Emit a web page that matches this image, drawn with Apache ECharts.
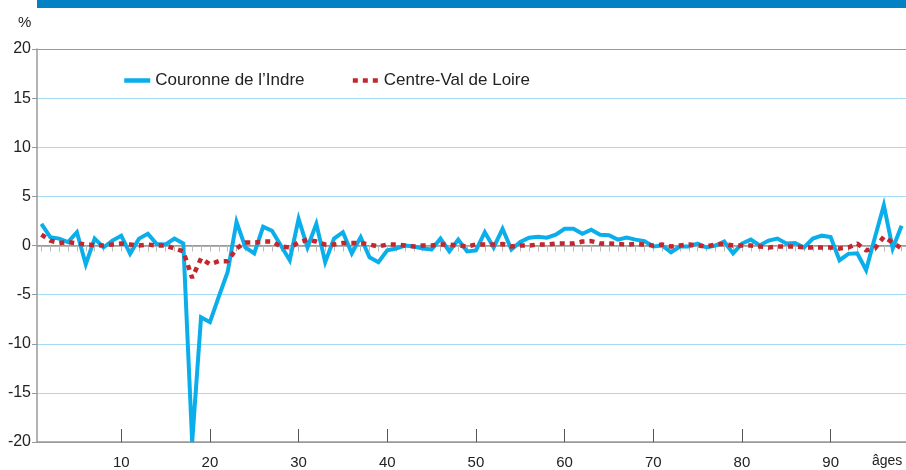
<!DOCTYPE html>
<html>
<head>
<meta charset="utf-8">
<script src="https://cdn.jsdelivr.net/npm/echarts@6/dist/echarts.min.js"></script>
<style>
  html, body { margin: 0; padding: 0; background: #fff; }
  #chart { width: 906px; height: 470px; }
</style>
</head>
<body>
<div id="chart"></div>
<script>
  // ages 1..98
  var ages = []
  for (var a = 1; a <= 98; a++) ages.push(a)

  var couronne = [
    2.2, 0.85, 0.7, 0.35, 1.35, -1.9, 0.7, -0.2, 0.5, 1.0,
    -0.85, 0.7, 1.2, 0.15, 0.1, 0.7, 0.2, -20, -7.3, -7.8,
    -5.2, -2.7, 2.4, -0.2, -0.8, 1.9, 1.5, 0, -1.5, 2.7,
    -0.2, 2.2, -1.7, 0.7, 1.35, -0.8, 0.85, -1.2, -1.7, -0.5,
    -0.3, 0, -0.1, -0.3, -0.4, 0.7, -0.6, 0.6, -0.6, -0.5,
    1.35, -0.2, 1.7, -0.4, 0.35, 0.8, 0.9, 0.8, 1.1, 1.7,
    1.7, 1.2, 1.6, 1.1, 1.05, 0.6, 0.8, 0.6, 0.45, -0.1,
    0, -0.7, -0.1, -0.1, 0.2, -0.2, 0, 0.4, -0.8, 0.2,
    0.6, 0, 0.5, 0.7, 0.2, 0.25, -0.2, 0.7, 1.0, 0.85,
    -1.5, -0.85, -0.8, -2.5, 0.85, 4.1, -0.3, 2.0
  ]

  var centreVdl = [
    1.1, 0.5, 0.25, 0.35, 0.2, 0.1, 0.05, 0, 0.1, 0.2,
    0.1, 0, 0.1, 0, 0, -0.3, -0.6, -3.3, -1.3, -1.9,
    -1.6, -1.6, -0.3, 0.3, 0.3, 0.4, 0.4, -0.1, -0.2, 0.3,
    0.6, 0.4, 0.1, 0.1, 0.25, 0.25, 0.25, 0.1, -0.1, 0.1,
    0.1, 0, -0.1, 0, 0, 0.1, 0.1, 0, -0.1, 0.1,
    0.1, 0.1, 0.15, -0.1, 0, 0, 0.1, 0.1, 0.2, 0.2,
    0.2, 0.4, 0.45, 0.2, 0.2, 0.15, 0.1, 0.15, 0.1, 0,
    0.1, -0.1, 0, 0.1, 0, -0.1, 0.1, 0.15, 0, 0,
    0, -0.1, -0.2, -0.1, -0.1, -0.1, -0.2, -0.2, -0.2, -0.2,
    -0.3, -0.2, 0.2, -0.5, -0.3, 0.9, 0.3, -0.3
  ]

  var seriesNames = ['Couronne de l’Indre', 'Centre-Val de Loire']

  var grey = '#9a9a9a'
  var lightBlue = '#a3dcf4'
  var font = 'Liberation Sans, Arial, sans-serif'

  var decade = function (idx, val) { return Number(val) % 10 === 0 }

  var myChart = echarts.init(document.getElementById('chart'))
  myChart.setOption({
    animation: false,
    textStyle: { fontFamily: font },
    grid: { left: 37, right: 0, top: 49, bottom: 28, containLabel: false },
    graphic: [
      { type: 'rect', shape: { x: 37, y: 0, width: 869, height: 8 }, style: { fill: '#0281c4' } },
      { type: 'text', left: 18, top: 15, style: { text: '%', font: '15px ' + font, fill: '#222' } },
      { type: 'text', left: 872, top: 454, style: { text: 'âges', font: '14px ' + font, fill: '#222' } }
    ],
    legend: {
      left: 117,
      top: 67,
      itemWidth: 26,
      itemHeight: 10,
      itemGap: 46,
      itemStyle: { opacity: 0 },
      lineStyle: { width: 4.5 },
      textStyle: { fontSize: 17, color: '#222', fontFamily: font },
      data: seriesNames
    },
    xAxis: [
      {
        type: 'category',
        data: ages,
        boundaryGap: true,
        position: 'bottom',
        axisLine: { onZero: false, lineStyle: { color: grey, width: 1.5 } },
        axisTick: { show: true, inside: true, length: 13, alignWithLabel: true, interval: decade, lineStyle: { color: '#555' } },
        axisLabel: { interval: decade, fontSize: 15, color: '#222', margin: 13 },
        splitLine: { show: false }
      },
      {
        type: 'category',
        data: ages,
        boundaryGap: true,
        position: 'bottom',
        axisLine: { onZero: true, lineStyle: { color: grey, width: 1.5 } },
        axisTick: { show: true, inside: false, length: 6, alignWithLabel: true, interval: 0, lineStyle: { color: '#bbb' } },
        axisLabel: { show: false },
        splitLine: { show: false }
      }
    ],
    yAxis: {
      type: 'value',
      min: -20,
      max: 20,
      interval: 5,
      axisLine: { show: true, lineStyle: { color: grey, width: 1.5 } },
      axisTick: { show: true, length: 5, lineStyle: { color: grey } },
      axisLabel: { fontSize: 16, color: '#222', margin: 6 },
      splitLine: {
        show: true,
        lineStyle: { color: [grey, lightBlue, lightBlue, lightBlue, grey, lightBlue, lightBlue, lightBlue, grey], width: 1.2 }
      }
    },
    series: [
      {
        name: seriesNames[0],
        type: 'line',
        xAxisIndex: 0,
        data: couronne,
        symbol: 'none',
        lineStyle: { color: '#0aaeea', width: 4, join: 'miter' },
        itemStyle: { color: '#0aaeea' }
      },
      {
        name: seriesNames[1],
        type: 'line',
        xAxisIndex: 0,
        data: centreVdl,
        symbol: 'none',
        lineStyle: { color: '#c1272d', width: 4.5, type: [5, 5], cap: 'butt' },
        itemStyle: { color: '#c1272d' }
      }
    ]
  })
</script>
</body>
</html>
